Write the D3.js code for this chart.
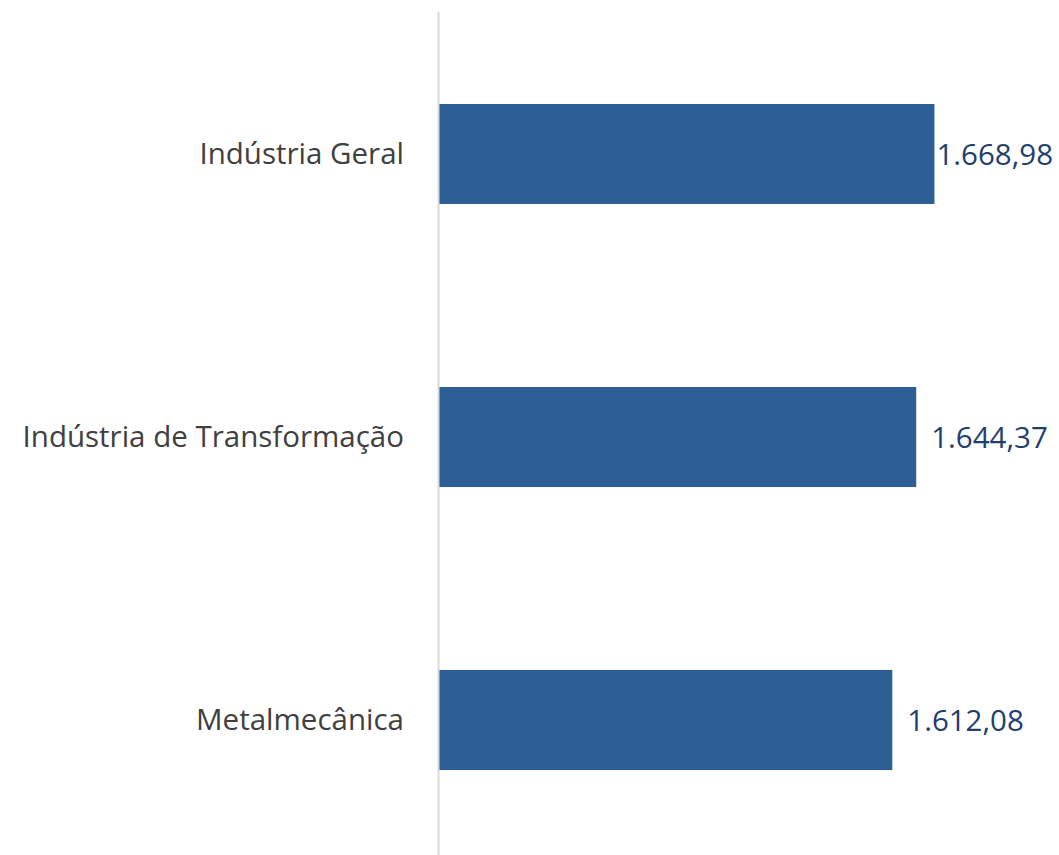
<!DOCTYPE html>
<html>
<head>
<meta charset="utf-8">
<script src="https://cdn.jsdelivr.net/npm/d3@7"></script>
<style>
  body { margin: 0; background: #fff; }
  svg text { font-family: "Open Sans", sans-serif; }
</style>
</head>
<body>
<svg id="canvas" width="1059" height="855"></svg>
<script>
let categories = ["Indústria Geral", "Indústria de Transformação", "Metalmecânica"]
let values = [1668.98, 1644.37, 1612.08]
let valueLabels = ["1.668,98", "1.644,37", "1.612,08"]
let xDomain = [1000, 1800]

let width = 1059
let height = 855
let canvas = d3.select("#canvas")

let xScale = d3.scaleLinear()
    .domain(xDomain)
    .range([438.5, 1031.6])

let yScale = d3.scaleBand()
    .domain(categories)
    .range([12.5, 861.5])
    .paddingInner(0.6466)
    .paddingOuter(0.3233)

// bars
canvas.selectAll("rect.bar")
    .data(values)
    .enter()
    .append("rect")
    .attr("class", "bar")
    .attr("x", xScale(xDomain[0]))
    .attr("y", (d, i) => yScale(categories[i]))
    .attr("width", d => xScale(d) - xScale(xDomain[0]))
    .attr("height", yScale.bandwidth())
    .attr("fill", "#2E5E96")

// vertical axis line
canvas.append("line")
    .attr("x1", xScale(xDomain[0]))
    .attr("x2", xScale(xDomain[0]))
    .attr("y1", 12)
    .attr("y2", height)
    .attr("stroke", "#D9D9D9")
    .attr("stroke-width", 2)

// category labels
canvas.selectAll("text.cat")
    .data(categories)
    .enter()
    .append("text")
    .attr("class", "cat")
    .attr("x", 404)
    .attr("y", d => yScale(d) + yScale.bandwidth() / 2)
    .attr("dy", "0.35em")
    .attr("text-anchor", "end")
    .attr("fill", "#404040")
    .style("font-size", "29.5px")
    .text(d => d)

// value labels, pushed left if they'd run off the edge
canvas.selectAll("text.val")
    .data(values)
    .enter()
    .append("text")
    .attr("class", "val")
    .attr("y", (d, i) => yScale(categories[i]) + yScale.bandwidth() / 2)
    .attr("dy", "0.37em")
    .attr("fill", "#1F3F6E")
    .style("font-size", "29.5px")
    .text((d, i) => valueLabels[i])
    .attr("x", function (d) {
        let w = this.getComputedTextLength()
        return Math.min(xScale(d) + 15, width - 6 - w)
    })
</script>
</body>
</html>
